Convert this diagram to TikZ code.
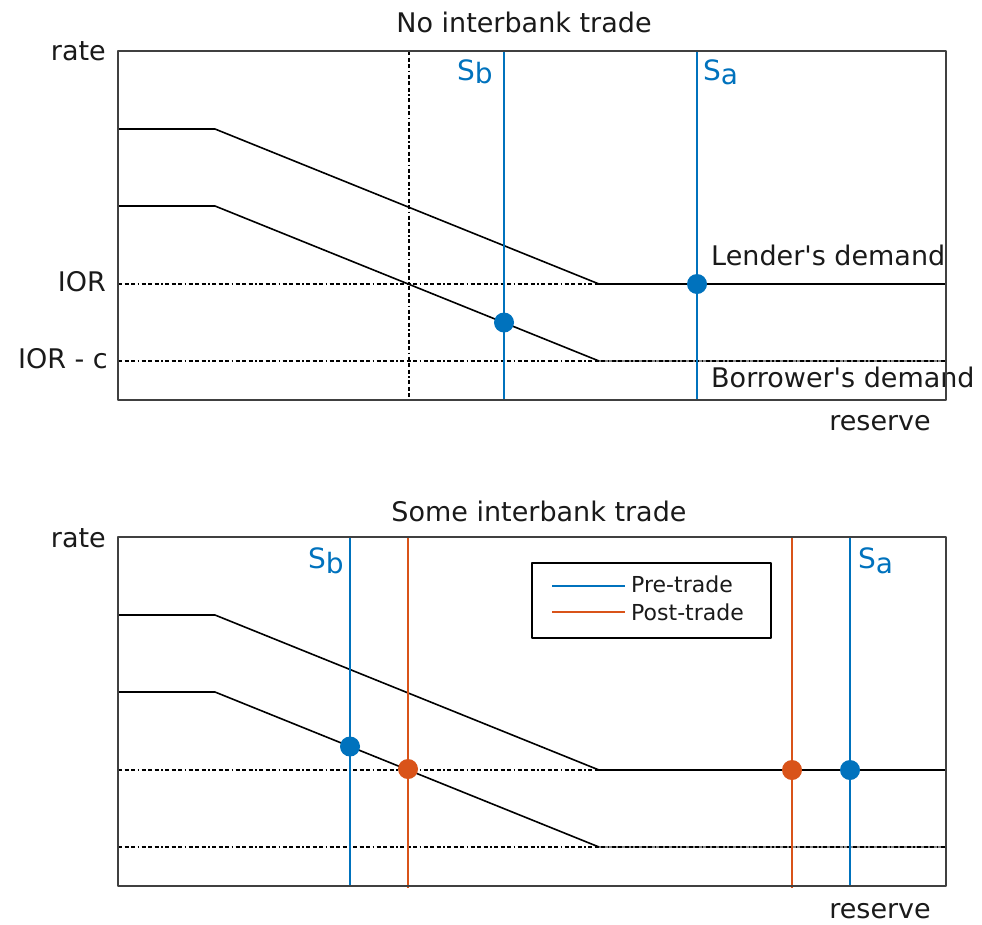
\documentclass[tikz,border=0pt]{standalone}
\usepackage{fontspec}
\setmainfont{DejaVu Sans}
\definecolor{preblue}{HTML}{0072BD}
\definecolor{postred}{HTML}{D95319}
\definecolor{ink}{HTML}{1A1A1A}
\tikzset{
  frame/.style={draw=black!75, line width=2.2pt},
  demand/.style={draw=black, line width=1.6pt},
  flatpart/.style={draw=black!45, line width=1.6pt},
  rateline/.style={draw=black, line width=1.4pt,
    dash pattern=on 4pt off 2.5pt on 4pt off 2.5pt on 4pt off 2.5pt on 1.5pt off 2.5pt},
  pre/.style={draw=preblue, line width=1.8pt},
  post/.style={draw=postred, line width=1.8pt},
  predot/.style={circle, fill=preblue, inner sep=0pt, minimum size=20pt},
  postdot/.style={circle, fill=postred, inner sep=0pt, minimum size=20pt},
  lbl/.style={font=\fontsize{27}{32}\selectfont, text=ink, inner sep=0pt},
  slbl/.style={font=\fontsize{28}{32}\selectfont, text=preblue, inner sep=0pt, anchor=base west},
  leglbl/.style={font=\fontsize{22}{26}\selectfont, text=ink, inner sep=0pt, anchor=base west},
}
\begin{document}
\begin{tikzpicture}[x=1pt,y=-1pt,line join=round]
  \useasboundingbox (0,0) rectangle (982,924);

  % no interbank trade
  \node[lbl,anchor=base] (ttitle) at (524,32) {No interbank trade};
  \node[lbl,anchor=base east] (trate) at (106,60) {rate};
  \node[lbl,anchor=base east] (tior) at (106,291) {IOR};
  \node[lbl,anchor=base east] (tiorc) at (108,368) {IOR - c};
  \node[lbl,anchor=base east] (tres) at (931,430) {reserve};

  \coordinate (tu0) at (118,129); \coordinate (tu1) at (215,129);
  \coordinate (tu2) at (599,284); \coordinate (tu3) at (946,284);
  \coordinate (tl0) at (118,206); \coordinate (tl1) at (215,206);
  \coordinate (tl2) at (599,361); \coordinate (tl3) at (946,361);
  \coordinate (tior0) at (118,284); \coordinate (tiorc0) at (118,361);
  \coordinate (tvx0) at (409,51);   \coordinate (tvx1) at (409,400);
  \coordinate (tsb0) at (504,51);   \coordinate (tsb1) at (504,400);
  \coordinate (tsa0) at (697,51);   \coordinate (tsa1) at (697,400);

  \draw[flatpart] (tl2) -- (tl3);
  \draw[rateline] (tior0) -- (tu2);
  \draw[rateline] (tiorc0) -- (tl3);
  \draw[rateline] (tvx0) -- (tvx1);
  \draw[demand] (tu0) -- (tu1) -- (tu2) -- (tu3);
  \draw[demand] (tl0) -- (tl1) -- (tl2);
  \draw[pre] (tsb0) -- (tsb1);
  \draw[pre] (tsa0) -- (tsa1);
  \node[predot] (teqb) at (504,322.5) {};
  \node[predot] (teqa) at (697,284) {};
  \node[slbl] (tsbl) at (457,80) {S\raisebox{-3pt}{b}};
  \node[slbl] (tsal) at (703,80) {S\raisebox{-4pt}{a}};
  \node[lbl,anchor=base west] (tlend) at (711,265) {Lender\textquotesingle s demand};
  \node[lbl,anchor=base west] (tborr) at (711,387) {Borrower\textquotesingle s demand};
  \draw[frame] (118,51) rectangle (946,400);

  % some interbank trade
  \node[lbl,anchor=base] (btitle) at (539,521) {Some interbank trade};
  \node[lbl,anchor=base east] (brate) at (106,547) {rate};
  \node[lbl,anchor=base east] (bres) at (931,918) {reserve};

  \coordinate (bu0) at (118,615); \coordinate (bu1) at (215,615);
  \coordinate (bu2) at (599,770); \coordinate (bu3) at (946,770);
  \coordinate (bl0) at (118,692); \coordinate (bl1) at (215,692);
  \coordinate (bl2) at (599,847); \coordinate (bl3) at (946,847);
  \coordinate (bior0) at (118,770); \coordinate (biorc0) at (118,847);
  \coordinate (bsb0) at (350,537);  \coordinate (bsb1) at (350,886);
  \coordinate (bpb0) at (408,537);  \coordinate (bpb1) at (408,888);
  \coordinate (bpa0) at (792,537);  \coordinate (bpa1) at (792,888);
  \coordinate (bsa0) at (850,537);  \coordinate (bsa1) at (850,886);

  \draw[flatpart] (bl2) -- (bl3);
  \draw[rateline] (bior0) -- (bu2);
  \draw[rateline] (biorc0) -- (bl3);
  \draw[demand] (bu0) -- (bu1) -- (bu2) -- (bu3);
  \draw[demand] (bl0) -- (bl1) -- (bl2);
  \draw[pre] (bsb0) -- (bsb1);
  \draw[post] (bpb0) -- (bpb1);
  \draw[post] (bpa0) -- (bpa1);
  \draw[pre] (bsa0) -- (bsa1);
  \node[predot] (beqb) at (350,746.5) {};
  \node[postdot] (bpostb) at (408,769) {};
  \node[postdot] (bposta) at (792,770) {};
  \node[predot] (beqa) at (850,770) {};
  \node[slbl] (bsbl) at (308,568) {S\raisebox{-5pt}{b}};
  \node[slbl] (bsal) at (858,568) {S\raisebox{-5pt}{a}};

  % legend
  \node[draw=black, line width=1.6pt, fill=white, minimum width=239pt,
        minimum height=75pt, inner sep=0pt] (leg) at (651.5,600.5) {};
  \coordinate (lp0) at (552,586); \coordinate (lp1) at (625,586);
  \coordinate (lq0) at (552,612); \coordinate (lq1) at (625,612);
  \draw[pre] (lp0) -- (lp1);
  \draw[post] (lq0) -- (lq1);
  \node[leglbl] (lpre) at (631,592) {Pre-trade};
  \node[leglbl] (lpost) at (631,620) {Post-trade};
  \draw[frame] (118,537) rectangle (946,886);
\end{tikzpicture}
\end{document}
